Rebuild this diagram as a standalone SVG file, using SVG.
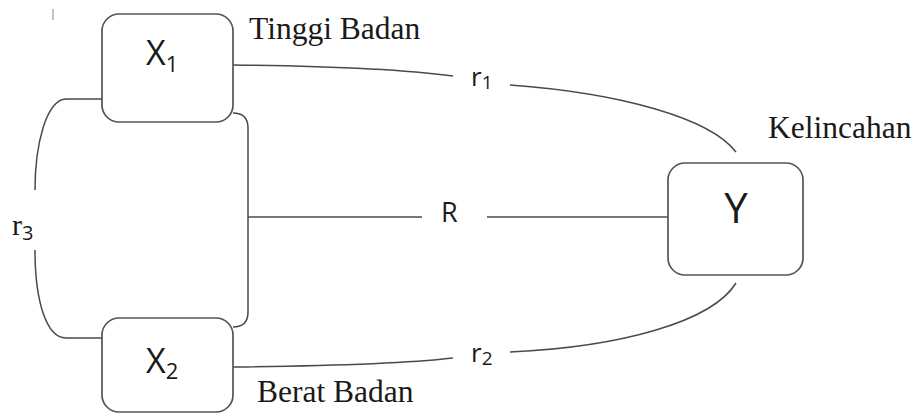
<svg xmlns="http://www.w3.org/2000/svg" width="917" height="414" viewBox="0 0 917 414">
<style>
.box{fill:#fff;stroke:#555;stroke-width:1.7}
.con{fill:none;stroke:#4a4a4a;stroke-width:1.5}
.var{font-family:"Open Sans","Liberation Sans",sans-serif;fill:#1a1a1a}
.cap{font-family:"Liberation Serif","Times New Roman",serif;font-size:31.5px;fill:#1a1a1a}
.lbl{font-family:"Open Sans","Liberation Sans",sans-serif;fill:#1a1a1a}
</style>
<rect width="917" height="414" fill="#fff"/>
<line x1="53" y1="9" x2="53" y2="20" stroke="#999" stroke-width="1.2"/>
<g id="connectors">
<path class="con" d="M233,65 C 330,66 400,69 453,76"/>
<path class="con" d="M510,85 C 620,93 710,118 736,152"/>
<path class="con" d="M233,367 C 330,366 400,364 453,358"/>
<path class="con" d="M510,352 C 620,347 712,322 736,283"/>
<path class="con" d="M233,113 Q248,113 248,128 L248,312 Q248,327 233,327"/>
<path class="con" d="M248,217 L422,217"/>
<path class="con" d="M487,217 L668,217"/>
<path class="con" d="M102,99 L66,99 C 46,100 35,145 35,190"/>
<path class="con" d="M35,250 C 35,300 46,338 66,338 L102,338"/>
<text class="lbl" x="441" y="222" font-size="27" font-weight="500">R</text>
<text class="lbl" x="471" y="86" font-size="26" font-weight="500">r<tspan font-size="19" dy="3">1</tspan></text>
<text class="lbl" x="471" y="362" font-size="26" font-weight="500">r<tspan font-size="19" dy="3">2</tspan></text>
<text x="12" y="235" font-family="Liberation Serif,serif" font-size="30" fill="#1a1a1a">r<tspan font-family="Open Sans,Liberation Sans,sans-serif" font-size="20" dy="5">3</tspan></text>
</g>
<g id="node-x1">
<rect class="box" x="102" y="14" width="131" height="108" rx="17"/>
<text class="var" x="146" y="65" font-size="34" font-weight="500">X<tspan font-size="22" dy="7">1</tspan></text>
<text class="cap" x="249" y="39">Tinggi Badan</text>
</g>
<g id="node-x2">
<rect class="box" x="102" y="318" width="131" height="94" rx="17"/>
<text class="var" x="146" y="373" font-size="34" font-weight="500">X<tspan font-size="22" dy="6">2</tspan></text>
<text class="cap" x="257" y="402">Berat Badan</text>
</g>
<g id="node-y">
<rect class="box" x="668" y="163" width="135" height="112" rx="17"/>
<text class="var" x="736" y="223" font-size="42" font-weight="500" text-anchor="middle">Y</text>
<text class="cap" x="768" y="138">Kelincahan</text>
</g>
</svg>
